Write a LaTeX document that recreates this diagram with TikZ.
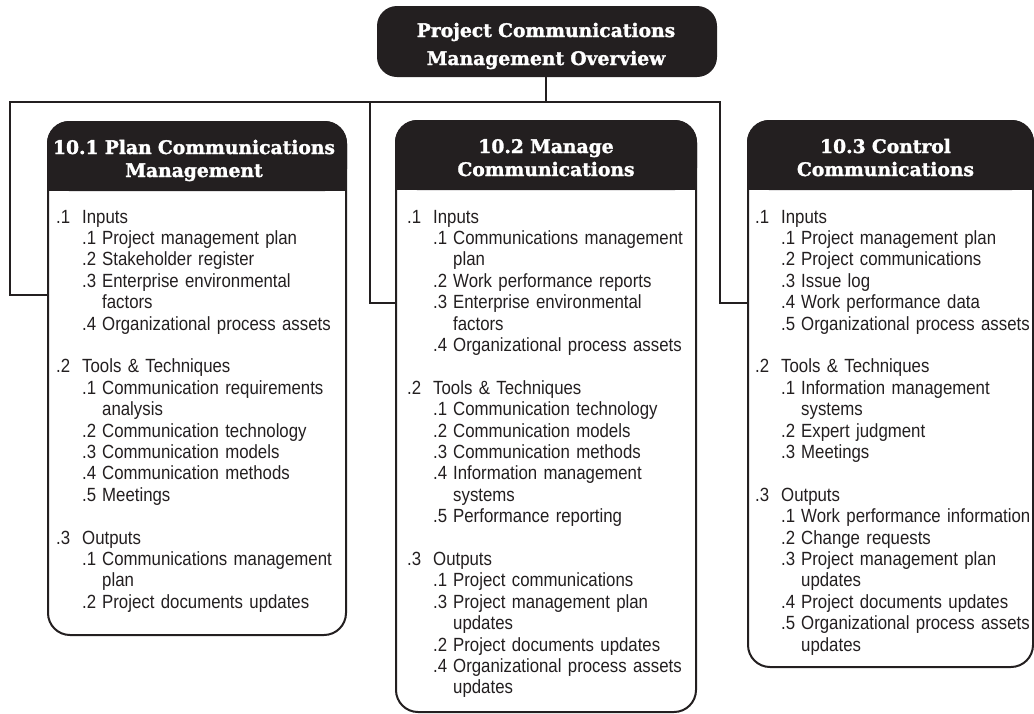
\documentclass[tikz,border=0pt]{standalone}
\usepackage{fontspec}
\newfontfamily\headfont[BoldFeatures={FakeBold=1.6}]{DejaVu Serif}
\newfontfamily\bodyfont[FakeStretch=0.88]{Liberation Sans}
\definecolor{ink}{HTML}{231F20}
\newcommand\Ia[2]{\makebox[26pt][l]{#1}#2}
\newcommand\Ib[2]{\hspace*{26pt}\makebox[20pt][l]{#1}#2}
\newcommand\Ic[1]{\hspace*{46pt}#1}
\begin{document}
\begin{tikzpicture}[x=1pt,y=-1pt,
  conn/.style={draw=ink, line width=2pt},
  procbox/.style={draw=ink, line width=2pt, fill=white, rounded corners=22pt, inner sep=0pt, anchor=north west},
  titlebox/.style={fill=ink, rounded corners=20pt, inner sep=0pt, minimum width=340pt, minimum height=71pt},
  headtxt/.style={text=white, font=\headfont\bfseries\fontsize{18.7}{23}\selectfont, text width=300pt, align=center, inner sep=0pt, anchor=base},
  bodytxt/.style={text=ink, font=\bodyfont\fontsize{19.1}{21.4}\selectfont, text width=300pt, align=left, inner sep=0pt, anchor=base west}]
\useasboundingbox (0,0) rectangle (1034,713);

% title
\node[titlebox] (title) at (547,41.5) {};
\node[headtxt, text width=340pt, font=\headfont\bfseries\fontsize{18.7}{28}\selectfont] (tt) at (546,37) {Project Communications\\Management Overview};

% connectors
\coordinate (hub) at (546,102);
\coordinate (c1) at (10,295);
\coordinate (c2) at (370,303);
\coordinate (c3) at (720,303);

% boxes
\node[procbox, minimum width=298pt, minimum height=513pt] (b1) at (47,121) {};
\node[procbox, minimum width=300pt, minimum height=591pt] (b2) at (395,120) {};
\node[procbox, minimum width=285pt, minimum height=546pt] (b3) at (747,120) {};

\draw[conn] (title.south -| hub) -- (hub);
\draw[conn] (hub) -| (c1) -- (c1 -| b1.west);
\draw[conn] (hub) -| (c2) -- (c2 -| b2.west);
\draw[conn] (hub) -| (c3) -- (c3 -| b3.west);

% headers
\foreach \b in {b1,b2,b3}{
  \fill[ink, rounded corners=22pt] (\b.north west) rectangle ([yshift=-70pt]\b.north east);
  \fill[ink] ([yshift=-35pt]\b.north west) rectangle ([yshift=-70pt]\b.north east);
}
\node[headtxt] (h1) at ([yshift=-33pt,xshift=-3pt]b1.north) {10.1 Plan Communications\\Management};
\node[headtxt] (h2) at ([yshift=-33pt]b2.north) {10.2 Manage\\Communications};
\node[headtxt] (h3) at ([yshift=-33pt,xshift=-5pt]b3.north) {10.3 Control\\Communications};

% body texts
\node[bodytxt] (t1) at (56,223) {\Ia{.1}{Inputs}\\
\Ib{.1}{Project management plan}\\
\Ib{.2}{Stakeholder register}\\
\Ib{.3}{Enterprise environmental}\\
\Ic{factors}\\
\Ib{.4}{Organizational process assets}\\
\mbox{}\\
\Ia{.2}{Tools \& Techniques}\\
\Ib{.1}{Communication requirements}\\
\Ic{analysis}\\
\Ib{.2}{Communication technology}\\
\Ib{.3}{Communication models}\\
\Ib{.4}{Communication methods}\\
\Ib{.5}{Meetings}\\
\mbox{}\\
\Ia{.3}{Outputs}\\
\Ib{.1}{Communications management}\\
\Ic{plan}\\
\Ib{.2}{Project documents updates}};

\node[bodytxt] (t2) at (407,223) {\Ia{.1}{Inputs}\\
\Ib{.1}{Communications management}\\
\Ic{plan}\\
\Ib{.2}{Work performance reports}\\
\Ib{.3}{Enterprise environmental}\\
\Ic{factors}\\
\Ib{.4}{Organizational process assets}\\
\mbox{}\\
\Ia{.2}{Tools \& Techniques}\\
\Ib{.1}{Communication technology}\\
\Ib{.2}{Communication models}\\
\Ib{.3}{Communication methods}\\
\Ib{.4}{Information management}\\
\Ic{systems}\\
\Ib{.5}{Performance reporting}\\
\mbox{}\\
\Ia{.3}{Outputs}\\
\Ib{.1}{Project communications}\\
\Ib{.3}{Project management plan}\\
\Ic{updates}\\
\Ib{.2}{Project documents updates}\\
\Ib{.4}{Organizational process assets}\\
\Ic{updates}};

\node[bodytxt] (t3) at (755,223) {\Ia{.1}{Inputs}\\
\Ib{.1}{Project management plan}\\
\Ib{.2}{Project communications}\\
\Ib{.3}{Issue log}\\
\Ib{.4}{Work performance data}\\
\Ib{.5}{Organizational process assets}\\
\mbox{}\\
\Ia{.2}{Tools \& Techniques}\\
\Ib{.1}{Information management}\\
\Ic{systems}\\
\Ib{.2}{Expert judgment}\\
\Ib{.3}{Meetings}\\
\mbox{}\\
\Ia{.3}{Outputs}\\
\Ib{.1}{Work performance information}\\
\Ib{.2}{Change requests}\\
\Ib{.3}{Project management plan}\\
\Ic{updates}\\
\Ib{.4}{Project documents updates}\\
\Ib{.5}{Organizational process assets}\\
\Ic{updates}};
\end{tikzpicture}
\end{document}
